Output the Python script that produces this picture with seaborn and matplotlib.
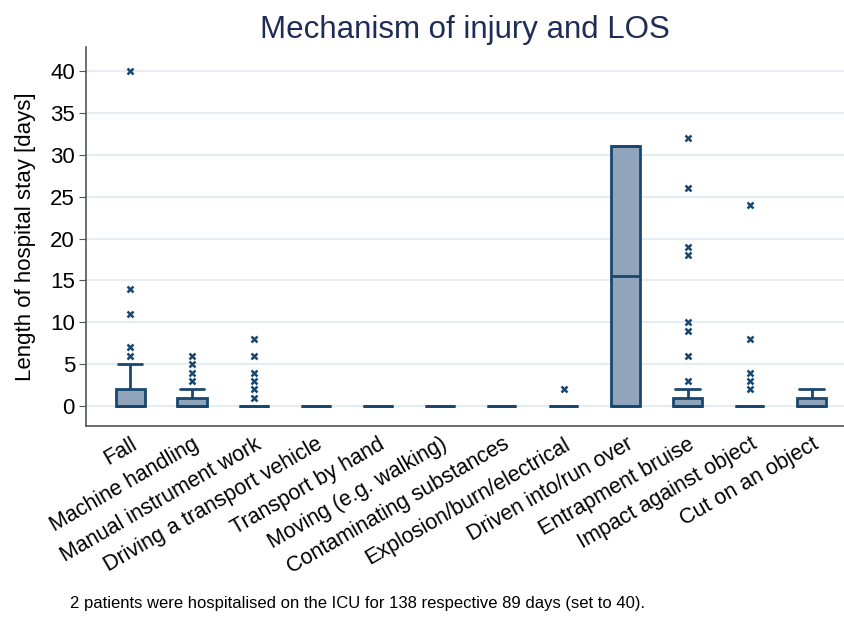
import pandas as pd
import matplotlib.pyplot as plt
import seaborn as sns

# categories on the x axis
mechanisms = [
    "Fall",
    "Machine handling",
    "Manual instrument work",
    "Driving a transport vehicle",
    "Transport by hand",
    "Moving (e.g. walking)",
    "Contaminating substances",
    "Explosion/burn/electrical",
    "Driven into/run over",
    "Entrapment bruise",
    "Impact against object",
    "Cut on an object",
]

# length of stay [days] per patient
fall = [0, 0, 0, 0, 0, 0, 0, 0, 0, 0, 0, 0, 0, 0, 0, 0, 1, 1, 2, 2, 2, 2, 2, 2, 3, 5,
        6, 7, 11, 14, 40]
machine = [0, 0, 0, 0, 0, 0, 0, 0, 0, 0, 0, 0, 1, 1, 1, 1, 1, 2, 3, 4, 5, 6]
manual = [0, 0, 0, 0, 0, 0, 0, 0, 0, 0, 0, 0, 0, 0, 0, 0, 0, 0, 0, 0, 1, 2, 3, 4, 6, 8]
driving = [0, 0, 0]
transport = [0, 0, 0]
moving = [0, 0, 0]
contaminating = [0, 0, 0]
explosion = [0, 0, 0, 0, 0, 2]
driven = [0, 0, 31, 31]
entrapment = [0, 0, 0, 0, 0, 0, 0, 0, 0, 0, 0, 0, 0, 0, 0, 0, 0, 0, 0, 0,
              1, 1, 1, 1, 1, 1, 1, 1, 1, 2, 3, 6, 9, 10, 18, 19, 26, 32]
impact = [0, 0, 0, 0, 0, 0, 0, 0, 0, 0, 0, 0, 0, 0, 0, 0, 0, 0, 2, 3, 4, 8, 24]
cut = [0, 0, 0, 0, 1, 1, 2]

los_values = [fall, machine, manual, driving, transport, moving, contaminating,
              explosion, driven, entrapment, impact, cut]

rows = []
for name, vals in zip(mechanisms, los_values):
    for v in vals:
        rows.append({"Mechanism": name, "LOS": v})
df = pd.DataFrame(rows)

sns.set_style("white")
plt.rcParams["font.family"] = ["Liberation Sans", "DejaVu Sans"]
plt.rcParams["text.color"] = "black"
plt.rcParams["axes.labelcolor"] = "black"
plt.rcParams["xtick.color"] = "black"
plt.rcParams["ytick.color"] = "black"

navy = "#1a476f"
fig = plt.figure(figsize=(8.44, 6.24), dpi=100)
ax = fig.add_axes([0.102, 0.317, 0.898, 0.608])

sns.boxplot(data=df, x="Mechanism", y="LOS", order=mechanisms, ax=ax,
            color="#90a4bb", linecolor=navy, linewidth=2, width=0.47,
            saturation=1, capwidths=0.4,
            flierprops=dict(marker="x", markersize=4.5, markeredgewidth=1.8,
                            markeredgecolor=navy))

ax.set_ylim(-2.4, 42.9)
ax.set_xlim(-0.71, 11.52)
ax.set_yticks(range(0, 45, 5))
ax.yaxis.grid(True, color="#e4eef2", linewidth=1.5)
ax.set_axisbelow(True)
for s in ["top", "right"]:
    ax.spines[s].set_visible(False)
for s in ["left", "bottom"]:
    ax.spines[s].set_color("#555555")
    ax.spines[s].set_linewidth(1.2)
ax.tick_params(axis="y", left=True, length=5, color="#555555", labelsize=16, pad=3)
ax.tick_params(axis="x", bottom=False, labelsize=15.5, pad=2)
plt.setp(ax.get_xticklabels(), rotation=30, ha="right", rotation_mode="anchor")
ax.set_xlabel("")
ax.set_ylabel("Length of hospital stay [days]", fontsize=16, labelpad=10)
ax.set_title("Mechanism of injury and LOS", fontsize=22.5, color="#1f2d56", pad=6)

fig.text(0.083, 0.025, "2 patients were hospitalised on the ICU for 138 respective 89 days (set to 40).",
         fontsize=12)

fig.savefig("out.png", dpi=100)
